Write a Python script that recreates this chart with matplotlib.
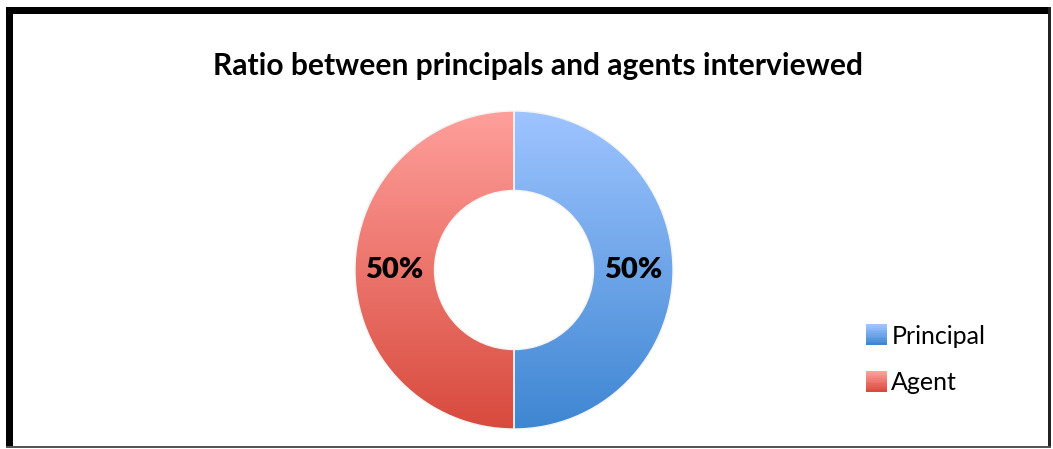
import numpy as np
import matplotlib
matplotlib.use("Agg")
import matplotlib.pyplot as plt
from matplotlib.patches import Rectangle
from matplotlib.colors import LinearSegmentedColormap
from matplotlib.legend_handler import HandlerBase

# interview split
labels = ["Principal", "Agent"]
shares = [50, 50]

# top / bottom shades of the gradient fill for each slice
grad_top = ["#9ec4ff", "#ff9f9b"]
grad_bottom = ["#3e86d2", "#d84a3d"]

W, H = 1053, 449
fig = plt.figure(figsize=(W / 100, H / 100), dpi=100)
fig.patch.set_facecolor("white")


def px(x, y, w, h):
    # pixel box (from top-left) -> figure fraction
    return (x / W, 1 - (y + h) / H, w / W, h / H)


# frame: heavy left/top, thin right/bottom
for (x, y, w, h, c) in [(6, 7, 7, 441, "black"), (6, 7, 1045, 7, "black"),
                        (1048, 7, 3, 441, "#222222"), (6, 446, 1045, 2, "#555555")]:
    l, b, ww, hh = px(x, y, w, h)
    fig.add_artist(Rectangle((l, b), ww, hh, transform=fig.transFigure,
                             facecolor=c, edgecolor="none"))

cx, cy, r = 514, 270, 159
half = 166
ax = fig.add_axes(px(cx - half, cy - half, 2 * half, 2 * half))
lim = half / r
ax.axis("off")

wedges, texts, autotexts = ax.pie(
    shares, startangle=90, counterclock=False, radius=1,
    autopct="%1.0f%%", pctdistance=0.75,
    wedgeprops=dict(width=0.5, facecolor="none", edgecolor="#f4f4f4", linewidth=1),
    textprops=dict(fontsize=21, fontweight="heavy", color="black", family="Lato"))
ax.set_xlim(-lim, lim)
ax.set_ylim(-lim, lim)
ax.set_aspect("equal")

grad = np.linspace(0, 1, 256).reshape(-1, 1)
for i, w in enumerate(wedges):
    cmap = LinearSegmentedColormap.from_list("g%d" % i, [grad_top[i], grad_bottom[i]])
    im = ax.imshow(grad, cmap=cmap, extent=(-1, 1, -1, 1), aspect="auto", zorder=1)
    im.set_clip_path(w)
    w.set_zorder(2)
for t in autotexts:
    t.set_zorder(4)


class GradientHandler(HandlerBase):
    def __init__(self, top, bottom):
        super().__init__()
        self.top, self.bottom = top, bottom

    def create_artists(self, legend, orig_handle, xdescent, ydescent, width, height, fontsize, trans):
        cmap = LinearSegmentedColormap.from_list("lg", [self.bottom, self.top])
        n = 12
        side = 15
        x0 = -xdescent + (width - side) / 2
        y0 = -ydescent + (height - side) / 2
        out = []
        for k in range(n):
            out.append(Rectangle((x0, y0 + side * k / n), side, side / n + 0.3,
                                 facecolor=cmap(k / (n - 1)), edgecolor="none", transform=trans))
        return out


handles = [Rectangle((0, 0), 1, 1) for _ in labels]
handler_map = {h: GradientHandler(grad_top[i], grad_bottom[i]) for i, h in enumerate(handles)}
leg = fig.legend(handles, labels, handler_map=handler_map, loc="upper left",
                 bbox_to_anchor=(845 / W, 1 - 302 / H), frameon=False,
                 prop=dict(family="Lato", size=18), handlelength=0.75, handleheight=0.8,
                 handletextpad=0.2, labelspacing=0.95)

fig.text(538 / W, 1 - 66 / H, "Ratio between principals and agents interviewed",
         ha="center", va="center", fontsize=21.6, fontweight="bold", family="Lato")

fig.savefig("out.png", dpi=100, facecolor="white")
